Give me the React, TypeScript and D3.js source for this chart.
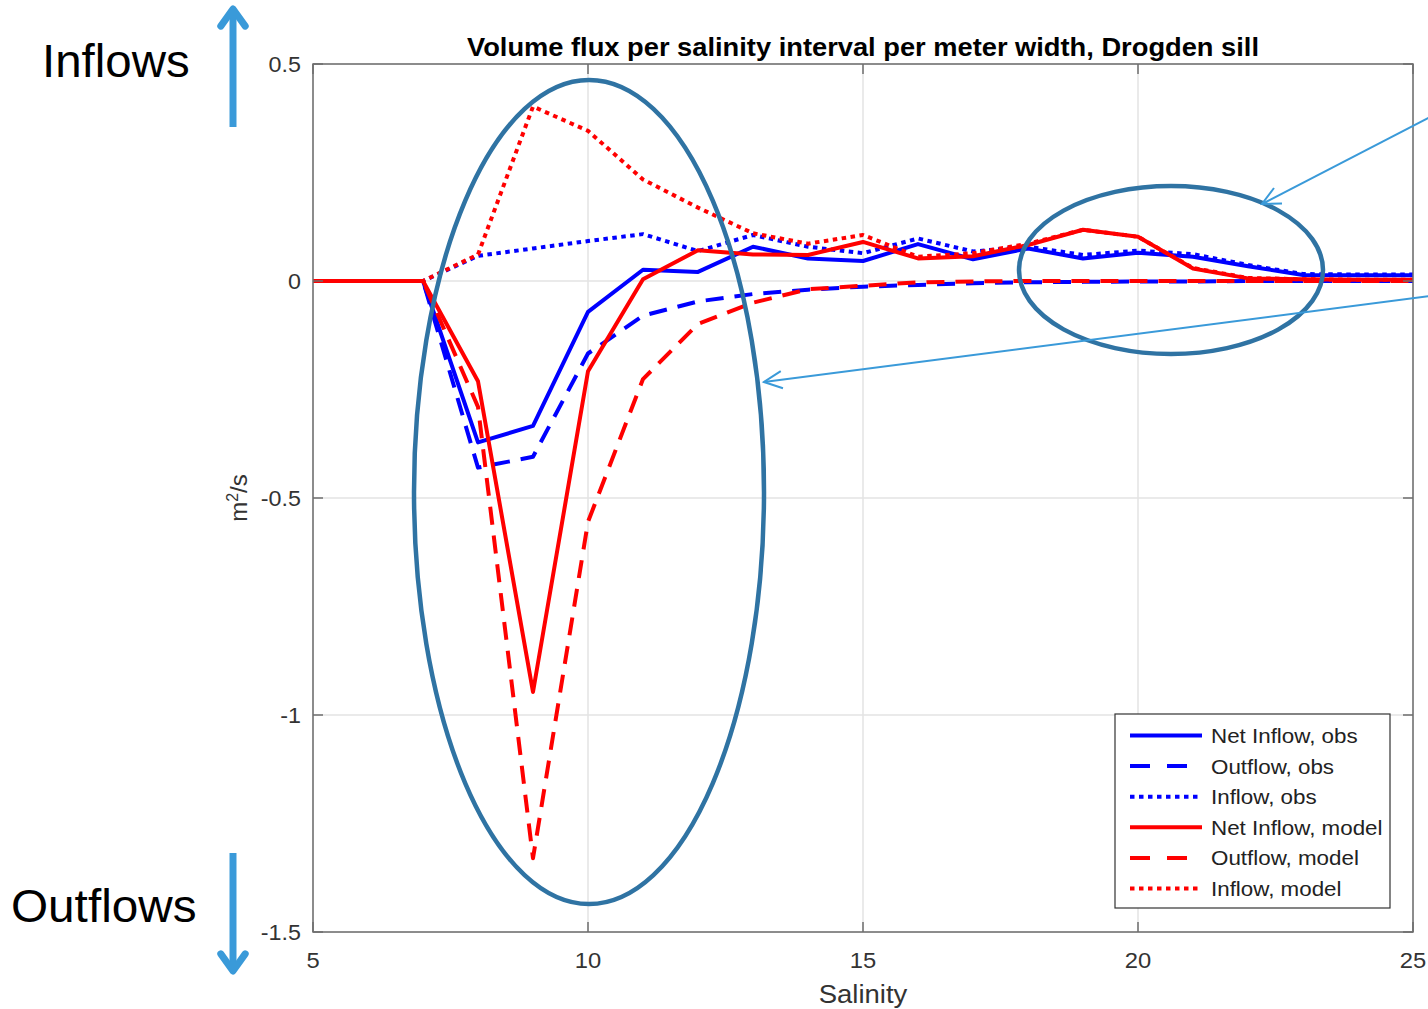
import React from "react";
import * as d3 from "d3";

const salinity = [5, 6, 7, 8, 9, 10, 11, 12, 13, 14, 15, 16, 17, 18, 19, 20, 21, 22, 23, 24, 25];
const netObs = [0, 0, 0, -0.372, -0.334, -0.071, 0.026, 0.021, 0.079, 0.052, 0.046, 0.085, 0.05, 0.075, 0.052, 0.065, 0.056, 0.034, 0.014, 0.013, 0.013];
const outObs = [0, 0, 0, -0.43, -0.405, -0.167, -0.08, -0.047, -0.03, -0.02, -0.013, -0.009, -0.005, -0.003, -0.002, -0.001, -0.001, 0, 0, 0, 0];
const inObs = [0, 0, 0, 0.058, 0.075, 0.092, 0.108, 0.069, 0.106, 0.079, 0.064, 0.098, 0.068, 0.079, 0.06, 0.07, 0.062, 0.037, 0.016, 0.015, 0.015];
const netModel = [0, 0, 0, -0.231, -0.947, -0.208, 0.004, 0.071, 0.061, 0.06, 0.09, 0.052, 0.057, 0.083, 0.118, 0.102, 0.029, 0.006, 0.004, 0.003, 0.003];
const outModel = [0, 0, 0, -0.29, -1.33, -0.555, -0.226, -0.099, -0.05, -0.019, -0.011, -0.003, -0.001, 0, 0, 0, 0, 0, 0, 0, 0];
const inModel = [0, 0, 0, 0.061, 0.402, 0.346, 0.234, 0.169, 0.11, 0.086, 0.106, 0.056, 0.064, 0.086, 0.118, 0.102, 0.03, 0.007, 0.004, 0.003, 0.003];

const xTicks = [5, 10, 15, 20, 25];
const yTicks = [0.5, 0, -0.5, -1, -1.5];
const seriesNames = ["Net Inflow, obs", "Outflow, obs", "Inflow, obs", "Net Inflow, model", "Outflow, model", "Inflow, model"];

const W = 1428, H = 1009;
const L = 313, R = 1413, T = 64, B = 932;
const FONT = "'Liberation Sans', Arial, Helvetica, sans-serif";
const BLUE = "#0000ff", RED = "#ff0000";
const ANN = "#2f73a3", ARROW = "#3a9ad9";

function Txt(props: { x: number; y: number; sx?: number; size: number; anchor?: string; fill?: string; weight?: string; children: React.ReactNode }) {
  const { x, y, sx = 1, size, anchor = "start", fill = "#333", weight = "normal", children } = props;
  return (
    <text transform={`translate(${x},${y}) scale(${sx},1)`} textAnchor={anchor} fontSize={size} fill={fill} fontWeight={weight}>
      {children}
    </text>
  );
}

export default function App() {
  const x = d3.scaleLinear().domain([5, 25]).range([L, R]);
  const y = d3.scaleLinear().domain([-1.5, 0.5]).range([B, T]);
  const line = d3.line<number>().x((_, i) => x(salinity[i])).y((d) => y(d));

  const series = [
    { data: netObs, color: BLUE, dash: "none" },
    { data: outObs, color: BLUE, dash: "18,11" },
    { data: inObs, color: BLUE, dash: "4.5,4.5" },
    { data: netModel, color: RED, dash: "none" },
    { data: outModel, color: RED, dash: "18,11" },
    { data: inModel, color: RED, dash: "4.5,4.5" },
  ];

  const legX = 1115, legY = 714, legW = 275, legH = 194, rowH = 30.6;

  const arrowHead = (x1: number, y1: number, x2: number, y2: number, len: number, ang: number) => {
    const a = Math.atan2(y1 - y2, x1 - x2);
    const p1 = [x2 + len * Math.cos(a + ang), y2 + len * Math.sin(a + ang)];
    const p2 = [x2 + len * Math.cos(a - ang), y2 + len * Math.sin(a - ang)];
    return `M${p1[0]},${p1[1]}L${x2},${y2}L${p2[0]},${p2[1]}`;
  };

  return (
    <svg width={W} height={H} style={{ position: "absolute", left: 0, top: 0, background: "#fff" }} fontFamily={FONT}>
      <defs>
        <clipPath id="plotclip">
          <rect x={L} y={T} width={R - L} height={B - T} />
        </clipPath>
      </defs>
      <rect x={L} y={T} width={R - L} height={B - T} fill="#fff" />
      {xTicks.map((t) => (
        <line key={"gx" + t} x1={x(t)} x2={x(t)} y1={T} y2={B} stroke="#e3e3e3" strokeWidth={1.5} />
      ))}
      {yTicks.map((t) => (
        <line key={"gy" + t} x1={L} x2={R} y1={y(t)} y2={y(t)} stroke="#e3e3e3" strokeWidth={1.5} />
      ))}
      <g clipPath="url(#plotclip)">
        {series.map((s, i) => (
          <path key={i} d={line(s.data) || ""} fill="none" stroke={s.color} strokeWidth={4} strokeDasharray={s.dash} strokeLinejoin="round" />
        ))}
      </g>
      <rect x={L} y={T} width={R - L} height={B - T} fill="none" stroke="#6e6e6e" strokeWidth={1.5} />
      {xTicks.map((t) => (
        <g key={"tx" + t}>
          <line x1={x(t)} x2={x(t)} y1={B} y2={B - 10} stroke="#6e6e6e" strokeWidth={1.5} />
          <line x1={x(t)} x2={x(t)} y1={T} y2={T + 10} stroke="#6e6e6e" strokeWidth={1.5} />
          <Txt x={x(t)} y={968} size={22} sx={1.08} anchor="middle">{t}</Txt>
        </g>
      ))}
      {yTicks.map((t) => (
        <g key={"ty" + t}>
          <line x1={L} x2={L + 10} y1={y(t)} y2={y(t)} stroke="#6e6e6e" strokeWidth={1.5} />
          <line x1={R} x2={R - 10} y1={y(t)} y2={y(t)} stroke="#6e6e6e" strokeWidth={1.5} />
          <Txt x={301} y={y(t) + 8} size={22} sx={1.06} anchor="end">{t}</Txt>
        </g>
      ))}
      <Txt x={(L + R) / 2} y={1003} size={25} sx={1.1} anchor="middle">Salinity</Txt>
      <text transform={`translate(247,498) rotate(-90)`} textAnchor="middle" fontSize={24} fill="#333">
        m<tspan dy={-9} fontSize={16}>2</tspan><tspan dy={9}>/s</tspan>
      </text>
      <text x={(L + R) / 2} y={56} textAnchor="middle" fontSize={25} fontWeight="bold" fill="#000" textLength={792} lengthAdjust="spacingAndGlyphs">
        Volume flux per salinity interval per meter width, Drogden sill
      </text>
      <rect x={legX} y={legY} width={legW} height={legH} fill="#fff" stroke="#333" strokeWidth={1.2} />
      {series.map((s, i) => {
        const ry = legY + 21.5 + i * rowH;
        return (
          <g key={"leg" + i}>
            <line x1={1130} x2={1202} y1={ry} y2={ry} stroke={s.color} strokeWidth={4} strokeDasharray={s.dash === "18,11" ? "20,17" : s.dash} />
            <Txt x={1211} y={ry + 7.5} size={21} sx={1.065} fill="#222">{seriesNames[i]}</Txt>
          </g>
        );
      })}
      <ellipse cx={589} cy={492} rx={175} ry={412} fill="none" stroke={ANN} strokeWidth={4.5} />
      <ellipse cx={1171} cy={270} rx={152} ry={84} fill="none" stroke={ANN} strokeWidth={4.5} />
      <line x1={1430} x2={1262} y1={117} y2={204} stroke={ARROW} strokeWidth={2} />
      <path d={arrowHead(1430, 117, 1262, 204, 20, 0.45)} fill="none" stroke={ARROW} strokeWidth={2} />
      <line x1={1430} x2={764} y1={296} y2={382} stroke={ARROW} strokeWidth={2} />
      <path d={arrowHead(1430, 296, 764, 382, 20, 0.45)} fill="none" stroke={ARROW} strokeWidth={2} />
      <line x1={233} x2={233} y1={127} y2={10} stroke={ARROW} strokeWidth={7} />
      <path d={arrowHead(233, 127, 233, 9, 21, 0.62)} fill="none" stroke={ARROW} strokeWidth={7} strokeLinecap="round" strokeLinejoin="round" />
      <line x1={233} x2={233} y1={853} y2={970} stroke={ARROW} strokeWidth={7} />
      <path d={arrowHead(233, 853, 233, 971, 21, 0.62)} fill="none" stroke={ARROW} strokeWidth={7} strokeLinecap="round" strokeLinejoin="round" />
      <Txt x={42} y={77} size={47} sx={1.01} fill="#000">Inflows</Txt>
      <Txt x={11} y={922} size={47} sx={1.015} fill="#000">Outflows</Txt>
    </svg>
  );
}
